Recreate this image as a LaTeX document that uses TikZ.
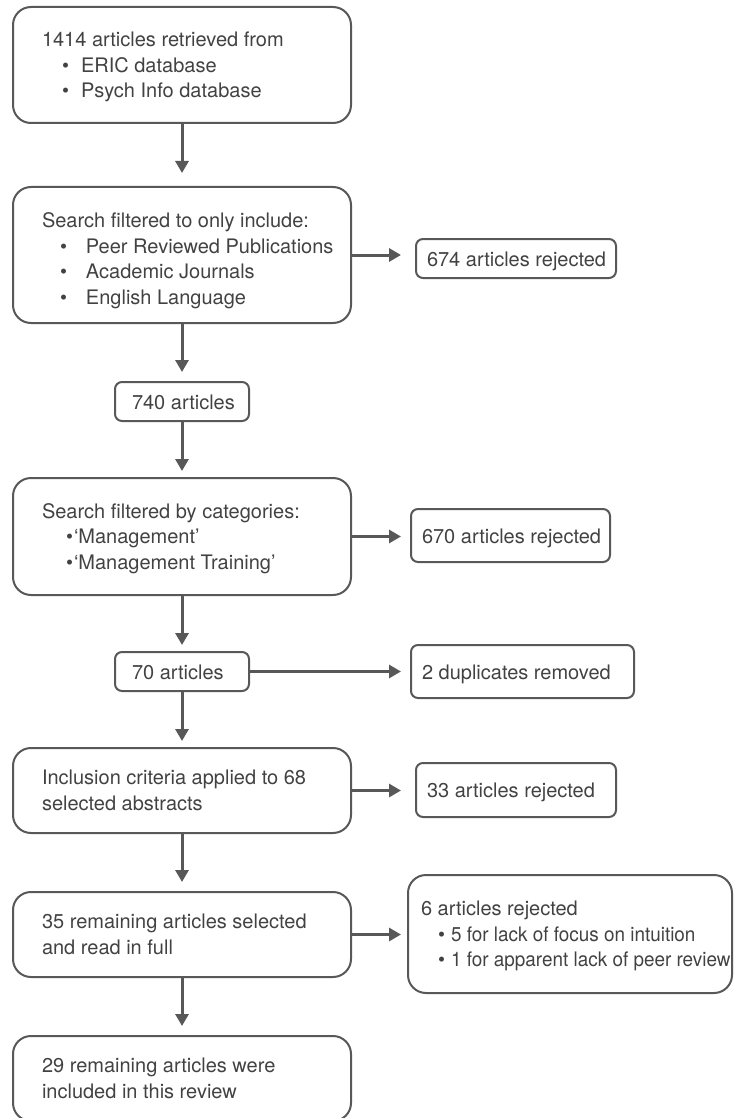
\documentclass[tikz,border=0pt]{standalone}
\usepackage{fontspec}
\setmainfont{TeX Gyre Heros}
\usetikzlibrary{arrows.meta}
\definecolor{edge}{RGB}{88,88,88}
\definecolor{ink}{RGB}{66,66,66}
\newcommand{\lbox}[3][22pt]{\makebox[#2][l]{\begin{tabular}{@{}l@{}}\rule{0pt}{#1}#3\end{tabular}}}
\newcommand{\bul}[2]{\hspace*{#1}\makebox[#2][l]{\textbullet}}
\begin{document}
\begin{tikzpicture}[x=1pt,y=-1pt,
  font=\fontsize{20}{25.5}\selectfont, text=ink,
  bigbox/.style={draw=edge, line width=2pt, rounded corners=18pt, inner xsep=29pt, inner ysep=0pt},
  smallbox/.style={draw=edge, line width=2pt, rounded corners=7pt, inner ysep=0pt, text height=15pt, text depth=0pt, minimum height=39pt},
  flow/.style={draw=edge, line width=3pt, -{Triangle[length=12pt,width=13pt]}}]
\useasboundingbox (0,0) rectangle (733,1118);

\node[bigbox, minimum height=116pt] (b1) at (182,65)
  {\lbox{280pt}{1414 articles retrieved from\\ \bul{20pt}{19pt}ERIC database\\ \bul{20pt}{19pt}Psych Info database}};
\node[bigbox, minimum height=136pt] (b2) at (182,255)
  {\lbox[30pt]{280pt}{Search filtered to only include:\\ \bul{18pt}{26pt}Peer Reviewed Publications\\ \bul{18pt}{26pt}Academic Journals\\ \bul{18pt}{26pt}English Language}};
\node[smallbox, inner xsep=11pt] (r1) at (516,258.5) {\makebox[178pt][l]{674 articles rejected}};
\node[smallbox, inner xsep=17pt] (n740) at (182,401.5) {\makebox[100pt][l]{740 articles}};
\node[bigbox, minimum height=117pt] (b3) at (182,536.5)
  {\lbox{280pt}{Search filtered by categories:\\ \bul{24pt}{8pt}`Management'\\ \bul{24pt}{8pt}`Management Training'}};
\node[smallbox, inner xsep=11pt, minimum height=53pt] (r2) at (510.5,535.5) {\makebox[177pt][l]{670 articles rejected}};
\node[smallbox, inner xsep=17pt] (n70) at (182,671.5) {\makebox[100pt][l]{70 articles}};
\node[smallbox, inner xsep=11pt, minimum height=53pt] (r3) at (522.5,671.5) {\makebox[201pt][l]{2 duplicates removed}};
\node[bigbox, minimum height=85pt] (b4) at (182,790.5)
  {\lbox{280pt}{Inclusion criteria applied to 68\\ selected abstracts}};
\node[smallbox, inner xsep=11pt, minimum height=54pt] (r4) at (516,790) {\makebox[178pt][l]{33 articles rejected}};
\node[bigbox, minimum height=85pt] (b5) at (182,934.5)
  {\lbox{280pt}{35 remaining articles selected\\ and read in full}};
\node[bigbox, inner xsep=13pt, minimum height=118pt] (r5) at (570,934)
  {\lbox{298pt}{6 articles rejected\\ \bul{17pt}{13pt}\scalebox{0.945}[1]{5 for lack of focus on intuition}\\ \bul{17pt}{13pt}\scalebox{0.945}[1]{1 for apparent lack of peer review}}};
\node[bigbox, minimum height=85pt] (b6) at (182,1078.5)
  {\lbox{280pt}{29 remaining articles were\\ included in this review}};

\draw[flow, shorten >=13pt] (b1) -- (b2);
\draw[flow, shorten >=9pt] (b2) -- (n740);
\draw[flow, shorten >=6pt] (n740) -- (b3);
\draw[flow, shorten >=6pt] (b3) -- (n70);
\draw[flow, shorten >=6pt] (n70) -- (b4);
\draw[flow, shorten >=9pt] (b4) -- (b5);
\draw[flow, shorten >=9pt] (b5) -- (b6);

\draw[flow, shorten >=14pt] (b2.east) -- (b2.east -| r1.west);
\draw[flow, shorten >=9pt] (b3.east) -- (b3.east -| r2.west);
\draw[flow, shorten >=9pt] (n70.east) -- (n70.east -| r3.west);
\draw[flow, shorten >=14pt] (b4.east) -- (b4.east -| r4.west);
\draw[flow, shorten >=6pt] (b5.east) -- (b5.east -| r5.west);
\end{tikzpicture}
\end{document}
